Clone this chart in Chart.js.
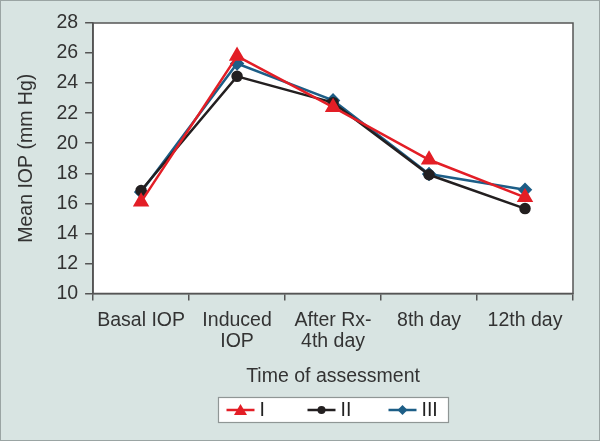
<!DOCTYPE html>
<html>
<head>
<meta charset="utf-8">
<script src="https://cdn.jsdelivr.net/npm/chart.js@4/dist/chart.umd.min.js"></script>
<style>
  html, body { margin: 0; padding: 0; background: #d8e4e2; }
  #wrap { width: 600px; height: 441px; }
</style>
</head>
<body>
<div id="wrap"><canvas id="chart" width="600" height="441"></canvas></div>
<script>
// Data
const categories = [["Basal IOP"], ["Induced", "IOP"], ["After Rx-", "4th day"], ["8th day"], ["12th day"]];
const seriesNames = ["I", "II", "III"];
const groupI = [16.1, 25.8, 22.4, 18.9, 16.4];
const groupII = [16.85, 24.45, 22.7, 17.9, 15.65];
const groupIII = [16.75, 25.3, 22.85, 17.95, 16.9];
const yTicks = { min: 10, max: 28, step: 2 };

const FONT = "'Liberation Sans', Arial, sans-serif";
const FS = 19.5;
const colors = ["#e31e26", "#231f20", "#1d5e87"];
const styles = ["triangle", "circle", "rectRot"];
const radii = [7, 4.5, 5.5];

// draws a small marker like the ones on the lines
function drawMarker(g, style, x, y, color) {
  g.fillStyle = color;
  g.beginPath();
  if (style === "triangle") {
    g.moveTo(x, y - 6); g.lineTo(x + 6.5, y + 5); g.lineTo(x - 6.5, y + 5); g.closePath();
  } else if (style === "circle") {
    g.arc(x, y, 4, 0, Math.PI * 2);
  } else {
    g.moveTo(x, y - 5); g.lineTo(x + 5, y); g.lineTo(x, y + 5); g.lineTo(x - 5, y); g.closePath();
  }
  g.fill();
}

const framePlugin = {
  id: "frame",
  beforeDraw(chart) {
    const { ctx, chartArea: a, width, height } = chart;
    ctx.save();
    ctx.fillStyle = "#d8e4e2";
    ctx.fillRect(0, 0, width, height);
    ctx.strokeStyle = "#9aa4a3";
    ctx.lineWidth = 1;
    ctx.strokeRect(0.5, 0.5, width - 1, height - 1);
    ctx.fillStyle = "#ffffff";
    ctx.fillRect(a.left, a.top, a.right - a.left, a.bottom - a.top);
    ctx.restore();
  },
  beforeDatasetsDraw(chart) {
    const { ctx, chartArea: a } = chart;
    ctx.save();
    ctx.strokeStyle = "#555555";
    ctx.lineWidth = 1.5;
    ctx.strokeRect(a.left, a.top, a.right - a.left, a.bottom - a.top);
    ctx.restore();
  },
  afterDraw(chart) {
    // boxed legend under the axis title
    const { ctx, chartArea: a } = chart;
    const boxW = 230, boxH = 25;
    const left = Math.round((a.left + a.right) / 2 - boxW / 2) + 0.5;
    const top = 397.5;
    const cy = top + boxH / 2;
    ctx.save();
    ctx.fillStyle = "#ffffff";
    ctx.fillRect(left, top, boxW, boxH);
    ctx.strokeStyle = "#8f9695";
    ctx.lineWidth = 1.2;
    ctx.strokeRect(left, top, boxW, boxH);
    ctx.font = FS + "px " + FONT;
    ctx.textBaseline = "middle";
    seriesNames.forEach((name, i) => {
      const x0 = left + 8 + i * 81;
      ctx.strokeStyle = colors[i];
      ctx.lineWidth = 2.5;
      ctx.beginPath(); ctx.moveTo(x0, cy); ctx.lineTo(x0 + 28, cy); ctx.stroke();
      drawMarker(ctx, styles[i], x0 + 14, cy, colors[i]);
      ctx.fillStyle = "#222";
      ctx.fillText(name, x0 + 33, cy + 1);
    });
    ctx.restore();
  }
};

const ctx = document.getElementById("chart").getContext("2d");
new Chart(ctx, {
  type: "line",
  data: {
    labels: categories,
    datasets: [groupI, groupII, groupIII].map((vals, i) => ({
      label: seriesNames[i],
      data: vals,
      borderColor: colors[i],
      backgroundColor: colors[i],
      borderWidth: 2.5,
      pointStyle: styles[i],
      pointRadius: radii[i],
      pointHoverRadius: radii[i],
      tension: 0
    }))
  },
  options: {
    responsive: false,
    animation: false,
    maintainAspectRatio: false,
    layout: { padding: { top: 23, right: 27, bottom: 50, left: 15 } },
    plugins: {
      tooltip: { enabled: false },
      legend: { display: false }
    },
    scales: {
      x: {
        offset: true,
        border: { color: "#555", width: 1.5 },
        grid: { display: true, offset: true, drawOnChartArea: false, drawTicks: true, tickLength: 7, color: "#555", lineWidth: 1.5 },
        ticks: { color: "#333", font: { family: FONT, size: FS, lineHeight: 1.08 }, maxRotation: 0, autoSkip: false, padding: 10 },
        title: { display: true, text: "Time of assessment", color: "#333", font: { family: FONT, size: FS, lineHeight: 1.2 }, padding: { top: 2, bottom: 3 } }
      },
      y: {
        min: yTicks.min,
        max: yTicks.max,
        border: { color: "#555", width: 1.5 },
        grid: { drawOnChartArea: false, drawTicks: true, tickLength: 8, color: "#555", lineWidth: 1.5 },
        ticks: { stepSize: yTicks.step, color: "#333", font: { family: FONT, size: FS }, padding: 7 },
        title: { display: true, text: "Mean IOP (mm Hg)", color: "#333", font: { family: FONT, size: FS, lineHeight: 1.2 }, padding: { top: 0, bottom: 11 } }
      }
    }
  },
  plugins: [framePlugin]
});
</script>
</body>
</html>
